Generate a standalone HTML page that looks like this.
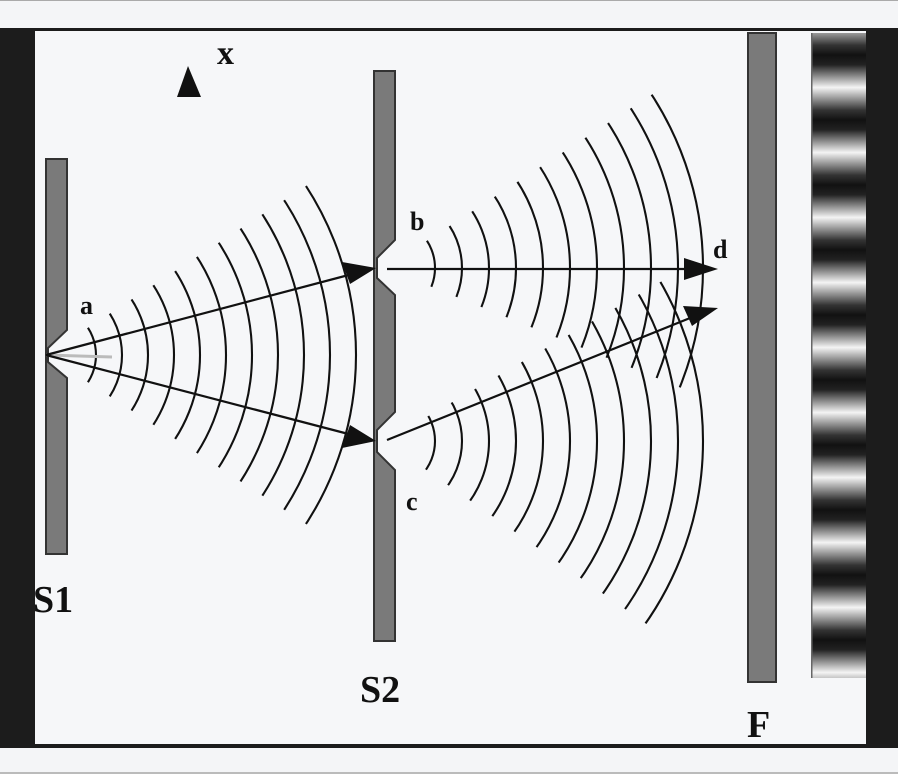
<!DOCTYPE html>
<html><head><meta charset="utf-8"><style>
html,body{margin:0;padding:0;width:898px;height:774px;overflow:hidden;background:#f4f5f7;}
</style></head><body>
<svg width="898" height="774" viewBox="0 0 898 774" xmlns="http://www.w3.org/2000/svg" style="position:absolute;left:0;top:0">
<defs>
<clipPath id="ca"><polygon points="46,355 446,95 446,615"/></clipPath>
<clipPath id="cb"><polygon points="385,268 785,8 785,430"/></clipPath>
<clipPath id="cc"><polygon points="385,441 785,210 785,721"/></clipPath>
<linearGradient id="fr" x1="0" y1="-10" x2="0" y2="55" gradientUnits="userSpaceOnUse" spreadMethod="repeat">
<stop offset="0" stop-color="#111"/><stop offset="0.15" stop-color="#222"/><stop offset="0.5" stop-color="#f4f4f4"/><stop offset="0.85" stop-color="#333"/><stop offset="1" stop-color="#111"/>
</linearGradient>
</defs>
<rect x="0" y="0" width="898" height="28" fill="#f4f5f7"/>
<rect x="0" y="0" width="898" height="1" fill="#aaa"/>
<rect x="0" y="28" width="898" height="720" fill="#1c1c1c"/>
<rect x="35" y="31" width="831" height="713" fill="#f6f7f9"/>
<rect x="0" y="748" width="898" height="26" fill="#f4f5f7"/>
<rect x="0" y="772" width="898" height="2" fill="#bbb"/>

<rect x="811" y="33" width="55" height="645" fill="url(#fr)"/>
<rect x="811" y="33" width="1.5" height="645" fill="#666"/>

<rect x="748" y="33" width="28" height="649" fill="#7a7a7a" stroke="#333" stroke-width="2"/>
<path d="M46,159 H67 V330 L48,348 V362 L67,378 V554 H46 Z" fill="#7a7a7a" stroke="#333" stroke-width="2"/>
<path d="M374,71 H395 V240 L377,258 V278 L395,295 V412 L377,430 V452 L395,470 V641 H374 Z" fill="#7a7a7a" stroke="#333" stroke-width="2"/>

<g fill="none" stroke="#111" stroke-width="2.1">
<g clip-path="url(#ca)">
<circle cx="46" cy="355" r="50"/><circle cx="46" cy="355" r="76"/><circle cx="46" cy="355" r="102"/><circle cx="46" cy="355" r="128"/><circle cx="46" cy="355" r="154"/><circle cx="46" cy="355" r="180"/><circle cx="46" cy="355" r="206"/><circle cx="46" cy="355" r="232"/><circle cx="46" cy="355" r="258"/><circle cx="46" cy="355" r="284"/><circle cx="46" cy="355" r="310"/>
</g>
<g clip-path="url(#cb)">
<circle cx="385" cy="268" r="50"/><circle cx="385" cy="268" r="77"/><circle cx="385" cy="268" r="104"/><circle cx="385" cy="268" r="131"/><circle cx="385" cy="268" r="158"/><circle cx="385" cy="268" r="185"/><circle cx="385" cy="268" r="212"/><circle cx="385" cy="268" r="239"/><circle cx="385" cy="268" r="266"/><circle cx="385" cy="268" r="293"/><circle cx="385" cy="268" r="318"/>
</g>
<g clip-path="url(#cc)">
<circle cx="385" cy="441" r="50"/><circle cx="385" cy="441" r="77"/><circle cx="385" cy="441" r="104"/><circle cx="385" cy="441" r="131"/><circle cx="385" cy="441" r="158"/><circle cx="385" cy="441" r="185"/><circle cx="385" cy="441" r="212"/><circle cx="385" cy="441" r="239"/><circle cx="385" cy="441" r="266"/><circle cx="385" cy="441" r="293"/><circle cx="385" cy="441" r="318"/>
</g>
</g>
<line x1="46" y1="355" x2="112" y2="357" stroke="#bbb" stroke-width="3"/>
<g stroke="#111" stroke-width="2.2" fill="#111">
<line x1="46" y1="355" x2="360" y2="272"/>
<line x1="46" y1="355" x2="360" y2="437"/>
<line x1="387" y1="269" x2="700" y2="269"/>
<line x1="387" y1="440" x2="700" y2="314"/>
<polygon points="376,268 342,262 350,284" stroke="none"/>
<polygon points="376,441 350,425 342,448" stroke="none"/>
<polygon points="718,269 684,258 684,280" stroke="none"/>
<polygon points="718,308 683,306 692,326" stroke="none"/>
<polygon points="188,66 177,97 201,97" stroke="none"/>
</g>
<g font-family="'Liberation Serif',serif" font-weight="bold" fill="#111">
<text x="217" y="64" font-size="34">x</text>
<text x="80" y="314" font-size="26">a</text>
<text x="410" y="230" font-size="26">b</text>
<text x="406" y="510" font-size="26">c</text>
<text x="713" y="258" font-size="26">d</text>
<text x="33" y="612" font-size="38">S1</text>
<text x="360" y="702" font-size="38">S2</text>
<text x="747" y="737" font-size="38">F</text>
</g>
</svg>
</body></html>
